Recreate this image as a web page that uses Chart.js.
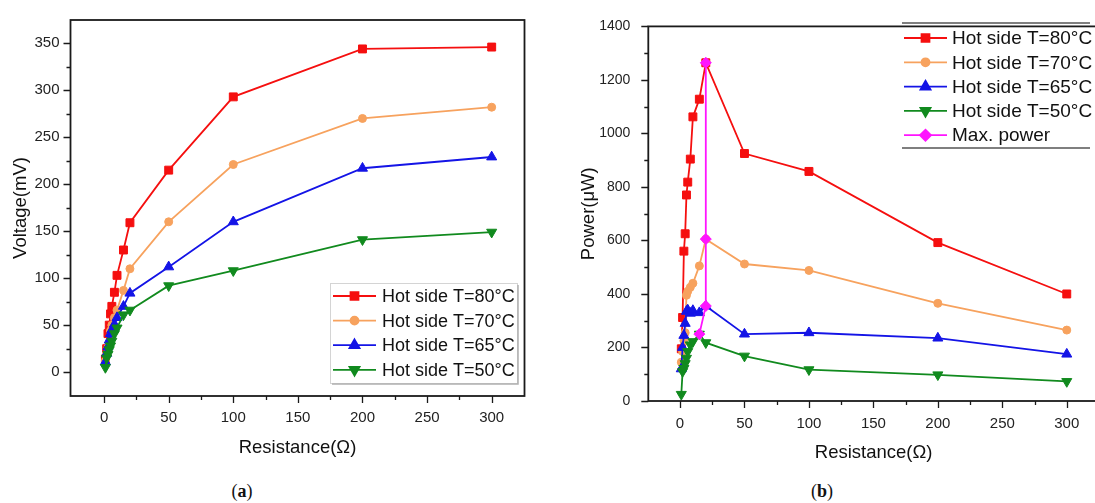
<!DOCTYPE html>
<html>
<head>
<meta charset="utf-8">
<title>Voltage and power vs. load resistance</title>
<script src="https://cdn.jsdelivr.net/npm/chart.js@4/dist/chart.umd.min.js"></script>
<style>
  html, body { margin: 0; padding: 0; background: #fff; }
  body { position: relative; width: 1095px; height: 503px; overflow: hidden; }
  #voltChart { position: absolute; left: 0; top: 0; }
  #powerChart { position: absolute; left: 565px; top: 0; }
  .caption {
    position: absolute; top: 481px; width: 60px; margin-left: -30px;
    text-align: center; font-family: "Liberation Serif", "DejaVu Serif", serif;
    font-size: 18px; color: #111;
  }
</style>
</head>
<body>
<canvas id="voltChart" width="545" height="470"></canvas>
<canvas id="powerChart" width="560" height="470"></canvas>
<div class="caption" style="left:242px">(<b>a</b>)</div>
<div class="caption" style="left:822px">(<b>b</b>)</div>

<script>
// load resistance (ohm)
const RES = [1, 2, 3, 4, 5, 6, 8, 10, 15, 20, 50, 100, 200, 300];

// output voltage (mV) per hot side temperature
const V80 = [14, 25, 41, 50, 62, 70, 85, 103, 130, 159, 215, 293, 344, 346];
const V70 = [12, 19, 26, 32, 44, 50, 58, 66, 87, 110, 160, 221, 270, 282];
const V65 = [11, 20, 27, 34, 41, 45, 51, 58, 70, 84, 112, 160, 217, 229];
const V50 = [5, 15, 19, 24, 28, 33, 41, 47, 61, 66, 92, 108, 141, 149];

// output power (uW)
const P80 = [195, 312, 560, 625, 770, 818, 904, 1062, 1128, 1264, 925, 858, 592, 400];
const P70 = [145, 185, 225, 255, 395, 410, 425, 440, 505, 605, 512, 488, 365, 265];
const P65 = [120, 200, 245, 290, 335, 340, 328, 338, 330, 355, 250, 255, 235, 175];
const P50 = [25, 110, 122, 140, 160, 185, 210, 222, 250, 218, 168, 117, 98, 73];

// maximum power point of each curve
const MAX_R = [20, 20, 20, 15];
const MAX_P = [1264, 605, 355, 250];

const SERIES_LABELS = ['Hot side T=80°C', 'Hot side T=70°C', 'Hot side T=65°C', 'Hot side T=50°C'];
const MAX_LABEL = 'Max. power';

const X_TICKS = [0, 50, 100, 150, 200, 250, 300];
const X_MINOR = [25, 75, 125, 175, 225, 275];
const V_TICKS = [0, 50, 100, 150, 200, 250, 300, 350];
const V_MINOR = [25, 75, 125, 175, 225, 275, 325];
const P_TICKS = [0, 200, 400, 600, 800, 1000, 1200, 1400];
const P_MINOR = [100, 300, 500, 700, 900, 1100, 1300];

const FONT = '"Liberation Sans", Arial, Helvetica, sans-serif';
const INK = '#1a1a1a';

const STYLES = [
  { color: '#f50f0f', pointStyle: 'rect', pointRadius: 5.6, rotation: 0 },
  { color: '#f7a25e', pointStyle: 'circle', pointRadius: 4, rotation: 0 },
  { color: '#1414e6', pointStyle: 'triangle', pointRadius: 5.8, rotation: 0 },
  { color: '#118a1e', pointStyle: 'triangle', pointRadius: 5.8, rotation: 180 },
];

const toPts = (xs, ys) => xs.map((x, i) => ({ x, y: ys[i] }));

function seriesSet(values) {
  return values.map((vals, i) => ({
    label: SERIES_LABELS[i],
    data: toPts(RES, vals),
    borderColor: STYLES[i].color,
    backgroundColor: STYLES[i].color,
    borderWidth: 1.8,
    pointStyle: STYLES[i].pointStyle,
    rotation: STYLES[i].rotation,
    pointRadius: STYLES[i].pointRadius,
    pointBorderWidth: 1,
    tension: 0,
    order: 4 - i,
  }));
}

// box frame plus outward major/minor tick marks
const frameTicks = {
  id: 'frameTicks',
  afterDraw(chart, args, o) {
    const { ctx, chartArea: a, scales: { x, y } } = chart;
    ctx.save();
    ctx.strokeStyle = INK;
    ctx.lineWidth = 1.3;
    ctx.beginPath();
    const tx = (vals, len) => vals.forEach(v => {
      const px = Math.round(x.getPixelForValue(v)) + 0.5;
      ctx.moveTo(px, a.bottom); ctx.lineTo(px, a.bottom + len);
    });
    const ty = (vals, len) => vals.forEach(v => {
      const py = Math.round(y.getPixelForValue(v)) + 0.5;
      ctx.moveTo(a.left, py); ctx.lineTo(a.left - len, py);
    });
    tx(o.xMajor, 7); tx(o.xMinor, 4);
    ty(o.yMajor, 7); ty(o.yMinor, 4);
    ctx.stroke();
    ctx.lineWidth = 1.8;
    ctx.strokeRect(a.left, a.top, a.right - a.left, a.bottom - a.top);
    ctx.restore();
  }
};

// legend drawn inside the plot, entries taken from the datasets
const boxLegend = {
  id: 'boxLegend',
  afterDraw(chart, args, o) {
    const ctx = chart.ctx;
    ctx.save();
    if (o.frame === 'box') {
      ctx.strokeStyle = '#d4d4d4';
      ctx.lineWidth = 1;
      ctx.strokeRect(o.left + 0.5, o.top + 0.5, o.right - o.left, o.bottom - o.top);
      ctx.strokeStyle = '#b0b0b0';
      ctx.lineWidth = 1.5;
      ctx.beginPath();
      ctx.moveTo(o.left + 2, o.bottom + 1); ctx.lineTo(o.right + 1, o.bottom + 1); ctx.lineTo(o.right + 1, o.top + 2);
      ctx.stroke();
    } else {
      ctx.strokeStyle = '#555';
      ctx.lineWidth = 1.3;
      ctx.beginPath();
      ctx.moveTo(o.left, o.top); ctx.lineTo(o.right, o.top);
      ctx.moveTo(o.left, o.bottom); ctx.lineTo(o.right, o.bottom);
      ctx.stroke();
    }
    ctx.font = o.fontSize + 'px ' + FONT;
    ctx.textBaseline = 'middle';
    chart.data.datasets.forEach((ds, i) => {
      const y = o.y0 + i * o.dy;
      ctx.strokeStyle = ds.borderColor;
      ctx.lineWidth = ds.borderWidth;
      ctx.beginPath();
      ctx.moveTo(o.x0, y); ctx.lineTo(o.x1, y);
      ctx.stroke();
      ctx.fillStyle = ds.backgroundColor;
      Chart.helpers.drawPoint(ctx, {
        pointStyle: ds.pointStyle, rotation: ds.rotation || 0,
        radius: ds.pointRadius, borderWidth: 1
      }, (o.x0 + o.x1) / 2, y);
      ctx.fillStyle = '#111';
      ctx.fillText(ds.label, o.tx, y + 1);
    });
    ctx.restore();
  }
};

function axes(cfg) {
  return {
    x: {
      type: 'linear',
      min: cfg.xMin, max: cfg.xMax,
      afterBuildTicks: s => { s.ticks = X_TICKS.map(v => ({ value: v })); },
      afterFit: s => { s.height = cfg.xHeight; },
      grid: { display: false, drawTicks: false },
      border: { display: false },
      ticks: {
        color: '#222', font: { family: FONT, size: 15 }, padding: cfg.xPad, maxRotation: 0,
        callback: v => String(v),
      },
      title: {
        display: true, text: 'Resistance(Ω)', color: '#111',
        font: { family: FONT, size: 18.5 }, padding: { top: 0, bottom: cfg.xTitlePad }
      },
    },
    y: {
      type: 'linear',
      min: cfg.yMin, max: cfg.yMax,
      afterBuildTicks: s => { s.ticks = cfg.yTicks.map(v => ({ value: v })); },
      afterFit: s => { s.width = cfg.yWidth; },
      grid: { display: false, drawTicks: false },
      border: { display: false },
      ticks: {
        color: '#222', font: { family: FONT, size: cfg.yFont }, padding: cfg.yPad,
        callback: v => String(v),
      },
      title: {
        display: true, text: cfg.yTitle, color: '#111',
        font: { family: FONT, size: 18.5 }, padding: { top: cfg.yTitlePad, bottom: 0 }
      },
    },
  };
}

// (a) voltage
new Chart(document.getElementById('voltChart'), {
  type: 'line',
  data: { datasets: seriesSet([V80, V70, V65, V50]) },
  options: {
    responsive: false,
    animation: false,
    layout: { padding: { top: 13, right: 20.5, bottom: 0, left: 0 } },
    scales: axes({
      xMin: -26, xMax: 325.4, xHeight: 74, xPad: 13, xTitlePad: 11,
      yMin: -25.4, yMax: 374.8, yTicks: V_TICKS, yWidth: 70.5, yPad: 11, yFont: 15,
      yTitle: 'Voltage(mV)', yTitlePad: 10,
    }),
    plugins: {
      legend: { display: false },
      tooltip: { enabled: false },
      frameTicks: { xMajor: X_TICKS, xMinor: X_MINOR, yMajor: V_TICKS, yMinor: V_MINOR },
      boxLegend: {
        frame: 'box', left: 330, top: 283, right: 517, bottom: 383,
        x0: 333, x1: 376, tx: 382, y0: 296, dy: 24.6, fontSize: 18,
      },
    },
  },
  plugins: [frameTicks, boxLegend],
});

// (b) power
const powerSets = seriesSet([P80, P70, P65, P50]);
powerSets.push({
  label: MAX_LABEL,
  data: toPts(MAX_R, MAX_P),
  borderColor: '#ff14ff',
  backgroundColor: '#ff14ff',
  borderWidth: 1.8,
  pointStyle: 'rectRot',
  pointRadius: 5.5,
  pointBorderWidth: 1,
  tension: 0,
  order: -1,
});

new Chart(document.getElementById('powerChart'), {
  type: 'line',
  data: { datasets: powerSets },
  options: {
    responsive: false,
    animation: false,
    layout: { padding: { top: 18.3, right: 26, bottom: 0, left: 0 } },
    scales: axes({
      xMin: -24.6, xMax: 325, xHeight: 69, xPad: 14, xTitlePad: 6,
      yMin: 0, yMax: 1400, yTicks: P_TICKS, yWidth: 83.3, yPad: 18, yFont: 14,
      yTitle: 'Power(μW)', yTitlePad: 13,
    }),
    plugins: {
      legend: { display: false },
      tooltip: { enabled: false },
      frameTicks: { xMajor: X_TICKS, xMinor: X_MINOR, yMajor: P_TICKS, yMinor: P_MINOR },
      boxLegend: {
        frame: 'lines', left: 337, top: 23, right: 525, bottom: 148,
        x0: 339, x1: 382, tx: 387, y0: 38, dy: 24.3, fontSize: 19,
      },
    },
  },
  plugins: [frameTicks, boxLegend],
});
</script>
</body>
</html>
